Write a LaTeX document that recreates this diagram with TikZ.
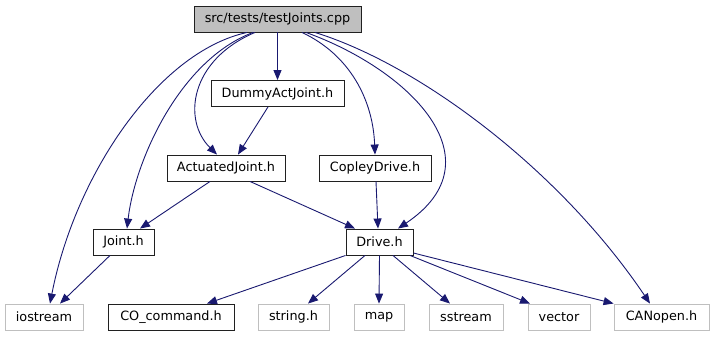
\documentclass[tikz,border=0pt]{standalone}
\usepackage{fontspec}
\setmainfont{DejaVu Sans}
\usetikzlibrary{arrows.meta}
\definecolor{edgeblue}{HTML}{191970}
\definecolor{boxgray}{HTML}{BFBFBF}
\definecolor{boxline}{HTML}{202020}
\tikzset{
  filebox/.style={draw=boxline, line width=0.9bp, fill=white, inner sep=0pt,
    minimum height=26bp, font=\fontsize{12.8bp}{14bp}\selectfont},
  rootbox/.style={filebox, fill=boxgray},
  sysbox/.style={filebox, draw=boxgray},
  dep/.style={draw=edgeblue, line width=0.9bp,
    -{Triangle[length=10bp,width=8bp]}, edgeblue},
}
\begin{document}
\begin{tikzpicture}[x=1bp, y=-1bp]
  \useasboundingbox (0,0) rectangle (715,336);

  % include hierarchy: top rows
  \node[rootbox, minimum width=167bp] (root) at (277.5,19) {src/tests/testJoints.cpp};
  \node[filebox, minimum width=133bp] (dummy) at (277.5,93.5) {DummyActJoint.h};
  \node[filebox, minimum width=118bp] (actj) at (226,168) {ActuatedJoint.h};
  \node[filebox, minimum width=112bp] (copley) at (375,168) {CopleyDrive.h};
  \node[filebox, minimum width=61bp] (joint) at (123.5,242) {Joint.h};
  \node[filebox, minimum width=67bp] (drive) at (379.5,242) {Drive.h};

  % bottom row
  \node[sysbox, minimum width=78bp] (iostream) at (44,317) {iostream};
  \node[filebox, minimum width=126bp] (cocmd) at (171,317) {CO\_command.h};
  \node[sysbox, minimum width=71bp] (string) at (293.5,317) {string.h};
  \node[sysbox, minimum width=50bp] (map) at (379,317) {map};
  \node[sysbox, minimum width=74bp] (sstream) at (466,317) {sstream};
  \node[sysbox, minimum width=62bp] (vector) at (559,317) {vector};
  \node[sysbox, minimum width=95bp] (canopen) at (661.5,317) {CANopen.h};

  % edges leaving the source file
  \draw[dep] ([xshift=-30.5bp]root.south) .. controls (158,52) and (75,175) .. ([xshift=6bp]iostream.north);
  \draw[dep] ([xshift=-24.5bp]root.south) .. controls (180,60) and (135,160) .. ([xshift=3.5bp]joint.north);
  \draw[dep] ([xshift=-22.5bp]root.south) .. controls (190,60) and (182,120) .. ([xshift=-9bp]actj.north);
  \draw[dep] (root.south) -- (dummy.north);
  \draw[dep] ([xshift=24.5bp]root.south) .. controls (350,55) and (373,100) .. (copley.north);
  \draw[dep] ([xshift=28.5bp]root.south) .. controls (410,70) and (500,160) .. ([xshift=18.5bp]drive.north);
  \draw[dep] ([xshift=37.5bp]root.south) .. controls (420,65) and (560,170) .. ([xshift=-11.5bp]canopen.north);

  % edges between headers
  \draw[dep] ([xshift=-9.5bp]dummy.south) -- ([xshift=12bp]actj.north);
  \draw[dep] ([xshift=-16bp]actj.south) -- ([xshift=16.5bp]joint.north);
  \draw[dep] ([xshift=24bp]actj.south) -- ([xshift=-24.5bp]drive.north);
  \draw[dep] ([xshift=1bp]copley.south) -- ([xshift=-1.5bp]drive.north);
  \draw[dep] ([xshift=-13.5bp]joint.south) -- ([xshift=16bp]iostream.north);

  % edges leaving Drive.h
  \draw[dep] (drive.south west) -- ([xshift=36bp]cocmd.north);
  \draw[dep] ([xshift=-14.5bp]drive.south) -- ([xshift=14.5bp]string.north);
  \draw[dep] (drive.south) -- (map.north);
  \draw[dep] ([xshift=13.5bp]drive.south) -- ([xshift=-16bp]sstream.north);
  \draw[dep] ([xshift=30.5bp]drive.south) -- ([xshift=-29bp]vector.north);
  \draw[dep] ([yshift=-11bp]drive.east) -- (canopen.north west);
\end{tikzpicture}
\end{document}
